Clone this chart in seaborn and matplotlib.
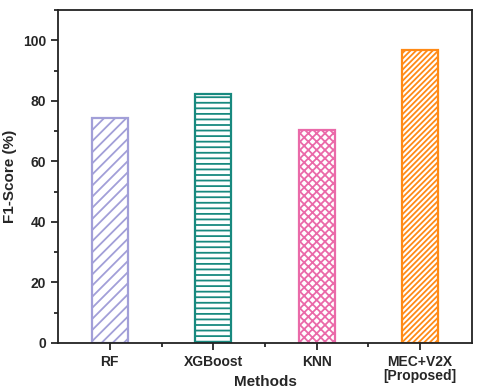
import pandas as pd
import matplotlib
matplotlib.use("Agg")
import matplotlib.pyplot as plt
import seaborn as sns
from matplotlib.ticker import MultipleLocator, FixedLocator

# Data
methods = ['RF', 'XGBoost', 'KNN', 'MEC+V2X\n[Proposed]']
f1_scores = [74.4, 82.3, 70.5, 97.0]
colors = ['#a29fd8', '#18897f', '#ea6aa9', '#ff8a16']
hatches = ['///', '---', 'xxxx', '//////']

sns.set_style("ticks")
plt.rcParams['font.family'] = ['Liberation Sans', 'DejaVu Sans']
plt.rcParams['font.weight'] = 'bold'
plt.rcParams['hatch.linewidth'] = 1.3

df = pd.DataFrame({'Method': methods, 'F1': f1_scores})

fig = plt.figure(figsize=(4.8, 3.92), dpi=100)
ax = fig.add_axes([0.121, 0.125, 0.862, 0.849])

sns.barplot(data=df, x='Method', y='F1', hue='Method', palette=colors,
            width=0.35, legend=False, ax=ax)

for patch, c, h in zip(ax.patches, colors, hatches):
    patch.set_facecolor('white')
    patch.set_edgecolor(c)
    patch.set_hatch(h)
    patch.set_linewidth(1.6)

ax.set_xlim(-0.5, 3.5)
ax.set_ylim(0, 110)
ax.yaxis.set_major_locator(MultipleLocator(20))
ax.yaxis.set_minor_locator(MultipleLocator(10))
ax.xaxis.set_minor_locator(FixedLocator([0.5, 1.5, 2.5]))

ax.set_xlabel('Methods', fontsize=11, fontweight='bold')
ax.xaxis.set_label_coords(0.5, -0.095)
ax.set_ylabel('F1-Score (%)', fontsize=11, fontweight='bold')
ax.tick_params(axis='both', which='major', labelsize=10, width=1.3, length=5, direction='out')
ax.tick_params(axis='both', which='minor', width=1.3, length=3, direction='out')
for lbl in ax.get_xticklabels() + ax.get_yticklabels():
    lbl.set_fontweight('bold')
    lbl.set_linespacing(1.0)

for s in ax.spines.values():
    s.set_visible(True)
    s.set_linewidth(1.3)
    s.set_color('#222222')

fig.savefig('out.png', dpi=100)
